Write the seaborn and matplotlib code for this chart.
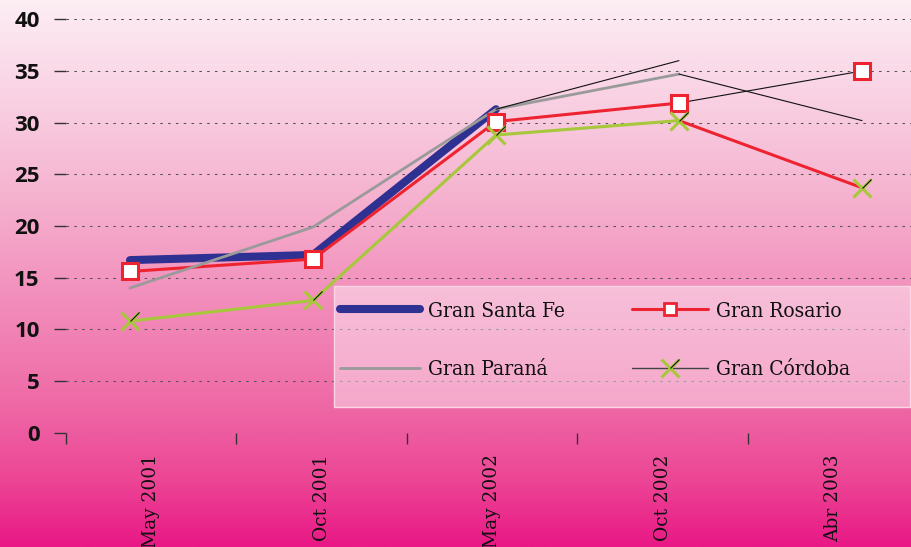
import numpy as np
import pandas as pd
import matplotlib
matplotlib.use("Agg")
import matplotlib.pyplot as plt
import seaborn as sns
from matplotlib.lines import Line2D
from matplotlib.patches import Rectangle
from matplotlib.colors import LinearSegmentedColormap
from matplotlib import font_manager

# ---------------- data ----------------
periods = ["May 2001", "Oct 2001", "May 2002", "Oct 2002", "Abr 2003"]
santa_fe = [16.7, 17.2, 31.3, 36.0, np.nan]
rosario = [15.6, 16.8, 30.1, 31.9, 35.0]
parana = [14.0, 19.9, 31.3, 34.7, 30.2]
cordoba = [10.8, 12.8, 28.8, 30.2, 23.7]
y_ticks = [0, 5, 10, 15, 20, 25, 30, 35, 40]
series_names = ["Gran Santa Fe", "Gran Rosario", "Gran Paraná", "Gran Córdoba"]

# ---------------- style ----------------
NAVY = "#2e3192"
RED = "#ee2330"
GRAY = "#9a9a9a"
GREEN = "#a6c83a"
BLACK = "#111111"

sns.set_theme(style="white")
plt.rcParams["font.family"] = ["DejaVu Sans"]

W, H = 912, 547
fig = plt.figure(figsize=(W / 100, H / 100), dpi=100)

# gradient background
bg = fig.add_axes([0, 0, 1, 1])
bg.set_axis_off()
stops = [(0.0, "#fdeef4"), (0.18, "#f9d1e3"), (0.37, "#f5b0ce"), (0.55, "#f28dbb"),
         (0.73, "#ef6ba7"), (0.88, "#ec4595"), (1.0, "#e91886")]
cmap = LinearSegmentedColormap.from_list("bg", stops)
bg.imshow(np.linspace(0, 1, 512)[:, None], aspect="auto", cmap=cmap,
          extent=[0, 1, 0, 1], origin="upper")

# main axes
ax_left, ax_right, ax_top, ax_bottom = 66, 912, 19.3, 432.7
ax = fig.add_axes([ax_left / W, (H - ax_bottom) / H, (ax_right - ax_left) / W,
                   (ax_bottom - ax_top) / H])
ax.patch.set_alpha(0)

df = pd.DataFrame({"idx": np.arange(len(periods)), "period": periods,
                   "santa_fe": santa_fe, "rosario": rosario,
                   "parana": parana, "cordoba": cordoba})

def seg(col, a, b, **kw):
    d = df.iloc[a:b]
    sns.lineplot(x=d["idx"].to_numpy(), y=d[col].to_numpy(), ax=ax, **kw)

# lines (as drawn in the original chart)
seg("santa_fe", 0, 3, color=NAVY, lw=5.8, solid_capstyle="round", zorder=2)
seg("rosario", 0, 4, color=RED, lw=2.2, zorder=3)
seg("cordoba", 3, 5, color=RED, lw=2.2, zorder=3)
seg("parana", 0, 4, color=GRAY, lw=2.0, zorder=4)
seg("cordoba", 0, 4, color=GREEN, lw=2.2, zorder=5)
seg("santa_fe", 2, 4, color=BLACK, lw=0.8, zorder=6)
seg("parana", 3, 5, color=BLACK, lw=0.8, zorder=6)
seg("rosario", 3, 5, color=BLACK, lw=0.8, zorder=6)

dash_marker = [(0, 0), (1, 1)]
# markers
sns.lineplot(x=df["idx"].to_numpy(), y=df["rosario"].to_numpy(), ax=ax, linestyle="none",
             marker="s", markersize=11, markerfacecolor="white", markeredgecolor=RED,
             markeredgewidth=2.2, color=RED, zorder=7)
sns.lineplot(x=df["idx"].to_numpy(), y=df["cordoba"].to_numpy(), ax=ax, linestyle="none",
             marker="x", markersize=13, markeredgecolor=GREEN, markeredgewidth=2.2,
             color=GREEN, zorder=8)
sns.lineplot(x=df["idx"].to_numpy(), y=df["cordoba"].to_numpy(), ax=ax, linestyle="none",
             marker=dash_marker, markersize=13, markeredgecolor=BLACK, markeredgewidth=0.8,
             color=BLACK, zorder=9)

# axes limits: data points at 130 + 183*i px
px0, step = 130, 183
ax.set_xlim((ax_left - px0) / step, (ax_right - px0) / step)
ax.set_ylim(0, 40)
ax.set_xticks([])
ax.set_xlabel("")
ax.set_ylabel("")
ax.set_yticks(y_ticks, labels=[str(v) for v in y_ticks], fontfamily="Open Sans",
              fontweight="bold", fontsize=16, color="#111111")
ax.tick_params(axis="y", left=True, length=9, width=1.0, color="#333333", pad=10)
ax.yaxis.grid(True, color="#555555", lw=0.75, linestyle=(0, (2.5, 5)))
ax.xaxis.grid(False)
ax.set_axisbelow(True)
for s in ax.spines.values():
    s.set_visible(False)

# category axis (bins of 170.5 px starting at the y axis)
ax2 = ax.twiny()
bin_w = 170.5
ax2.set_xlim(0, (ax_right - ax_left) / bin_w)
ax2.xaxis.set_ticks_position("bottom")
ax2.xaxis.set_label_position("bottom")
ax2.set_xticks(np.arange(len(periods)), labels=[""] * len(periods))
ax2.set_xticks(np.arange(len(periods)) + 0.5, labels=periods, minor=True, rotation=90,
               fontfamily="DejaVu Serif", fontsize=13.4, color="#111111")
ax2.tick_params(axis="x", which="major", bottom=True, top=False, length=8, width=1.0,
                color="#333333", direction="out")
ax2.tick_params(axis="x", which="minor", bottom=True, top=False, length=0, pad=15.5)
for s in ax2.spines.values():
    s.set_visible(False)

# legend box
box = Rectangle((334 / W, (H - 407) / H), (910 - 334) / W, (407 - 286) / H,
                transform=fig.transFigure, facecolor="white", alpha=0.42,
                edgecolor="none", zorder=1)
fig.patches.append(box)
edge = Rectangle((334 / W, (H - 407) / H), (910 - 334) / W, (407 - 286) / H,
                 transform=fig.transFigure, facecolor="none", edgecolor="#fbd6e6",
                 lw=1.0, zorder=1)
fig.patches.append(edge)

# legend font
def has_condensed(name):
    for f in font_manager.fontManager.ttflist:
        if f.name == name and "condensed" in str(f.stretch).lower():
            return True
    return False

if has_condensed("DejaVu Serif"):
    leg_font = font_manager.FontProperties(family="DejaVu Serif", stretch="condensed", size=15)
else:
    leg_font = font_manager.FontProperties(family="Liberation Serif", size=16)
fs_px = leg_font.get_size_in_points() * 100 / 72

h_sf = Line2D([], [], color=NAVY, lw=5.8, solid_capstyle="round")
h_ro = Line2D([], [], color=RED, lw=2.2, marker="s", markersize=9, markerfacecolor="white",
              markeredgecolor=RED, markeredgewidth=2.0)
h_pa = Line2D([], [], color=GRAY, lw=2.0)
h_co = (Line2D([], [], color="#444444", lw=1.0),
        Line2D([], [], linestyle="none", marker="x", markersize=13, markeredgecolor=GREEN,
               markeredgewidth=2.2),
        Line2D([], [], linestyle="none", marker=dash_marker, markersize=13,
               markeredgecolor=BLACK, markeredgewidth=0.8))

common = dict(loc="center left", frameon=False, borderpad=0, borderaxespad=0,
              handletextpad=8 / fs_px, labelspacing=1.9, prop=leg_font, numpoints=1)
leg1 = fig.legend([h_sf, h_pa], [series_names[0], series_names[2]],
                  bbox_to_anchor=(340 / W, 1 - 340.5 / H), handlelength=80 / fs_px, **common)
leg2 = fig.legend([h_ro, h_co], [series_names[1], series_names[3]],
                  bbox_to_anchor=(632 / W, 1 - 340.5 / H), handlelength=76 / fs_px, **common)
for lg in (leg1, leg2):
    for t in lg.get_texts():
        t.set_color("#111111")

fig.savefig("out.png", dpi=100)
